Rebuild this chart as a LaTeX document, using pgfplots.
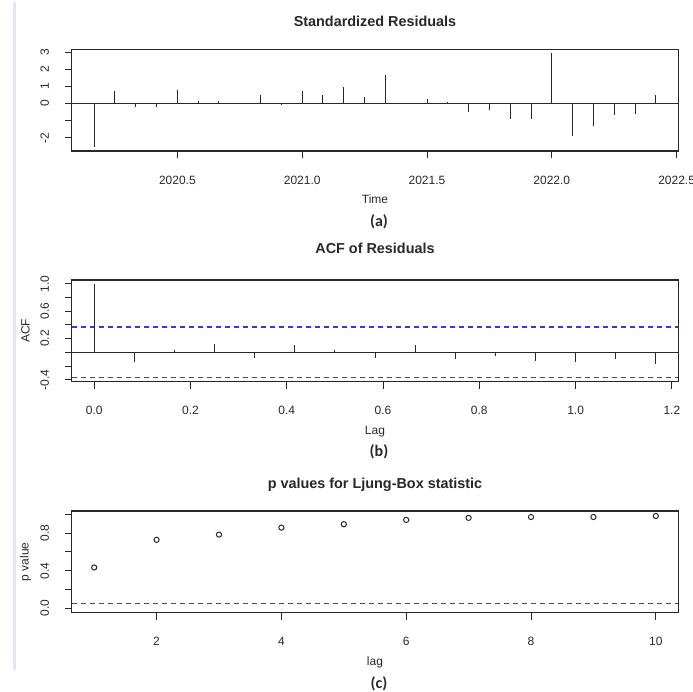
\documentclass[border=0pt]{standalone}
\usepackage{fontspec}
\setmainfont{Liberation Sans}
\newfontfamily\capfont{Carlito}
\usepackage{pgfplots}
\pgfplotsset{compat=1.18}

\definecolor{refblue}{RGB}{55,55,230}
\definecolor{edgeblue}{RGB}{218,232,248}
\definecolor{ink}{RGB}{40,40,40}

\pgfplotsset{
  rpanel/.style={
    scale only axis, width=606.6pt, height=101.5pt,
    anchor=north west,
    axis line style={line width=1.1pt, ink},
    tick align=outside, tick pos=left,
    major tick length=7pt,
    every tick/.style={ink, line width=1pt},
    /pgf/number format/assume math mode=true,
    ticklabel style={font=\fontsize{12}{12}\selectfont, ink},
    xticklabel style={anchor=center, yshift=-22pt},
    yticklabel style={xshift=-20pt, rotate=90, anchor=center},
    title style={font=\fontsize{14.4}{14.4}\selectfont\bfseries, ink, anchor=center, yshift=-6pt},
    label style={font=\fontsize{12}{12}\selectfont, ink},
    xlabel style={at={(axis description cs:0.5,-0.522)}, anchor=base},
    ylabel style={at={(axis description cs:-0.076,0.5)}, anchor=center, rotate=0},
    clip=false,
  },
  limline/.style={draw=refblue, line width=1.5pt, dash pattern=on 5.5pt off 3.5pt, mark=none},
}

\begin{document}
\begin{tikzpicture}[x=1pt, y=1pt]
\path[use as bounding box] (0,0) rectangle (693,-692);
\fill[edgeblue] (13,-2) rectangle (15.5,-670);

% (a) standardized residuals
\begin{axis}[rpanel, at={(71.7pt,-49.5pt)},
    xmin=2020.0767, xmax=2022.5067, ymin=-2.76, ymax=3.15,
    xtick={2020.5,2021,2021.5,2022,2022.5},
    xticklabels={2020.5,2021.0,2021.5,2022.0,2022.5},
    ytick={-2,-1,0,1,2,3}, yticklabels={-2,,0,1,2,3},
    title={Standardized Residuals},
    title style={at={(axis description cs:0.5,1.274)}},
    xlabel={Time}]
  \addplot[ink, line width=1pt] coordinates {(2020.0767,0) (2022.5067,0)};
  \addplot[ycomb, ink, line width=1pt] coordinates {
    (2020.1667,-2.54) (2020.25,0.71) (2020.3333,-0.22) (2020.4167,-0.22)
    (2020.5,0.82) (2020.5833,0.13) (2020.6667,0.15) (2020.75,0.02)
    (2020.8333,0.52) (2020.9167,-0.07) (2021.0,0.71) (2021.0833,0.52)
    (2021.1667,0.96) (2021.25,0.38) (2021.3333,1.66) (2021.4167,0.06)
    (2021.5,0.25) (2021.5833,0.08) (2021.6667,-0.48) (2021.75,-0.38)
    (2021.8333,-0.9) (2021.9167,-0.9) (2022.0,2.93) (2022.0833,-1.91)
    (2022.1667,-1.28) (2022.25,-0.65) (2022.3333,-0.59) (2022.4167,0.52)
  };
\end{axis}
\node[font=\capfont\bfseries\fontsize{16}{16}\selectfont, ink] at (379,-221.5) {(a)};

% (b) ACF of residuals
\begin{axis}[rpanel, at={(71.7pt,-280pt)},
    xmin=-0.0467, xmax=1.2133, ymin=-0.425, ymax=1.055,
    xtick={0,0.2,0.4,0.6,0.8,1.0,1.2},
    xticklabels={0.0,0.2,0.4,0.6,0.8,1.0,1.2},
    ytick={-0.4,-0.2,0,0.2,0.4,0.6,0.8,1.0},
    yticklabels={-0.4,,,0.2,,0.6,,1.0},
    title={ACF of Residuals},
    title style={at={(axis description cs:0.5,1.31)}},
    xlabel={Lag}, ylabel={ACF}]
  \addplot[ink, line width=1pt] coordinates {(-0.0467,0) (1.2133,0)};
  \addplot[limline] coordinates {(-0.0467,0.37) (1.2133,0.37)};
  \addplot[limline] coordinates {(-0.0467,-0.37) (1.2133,-0.37)};
  \addplot[ycomb, ink, line width=1pt] coordinates {
    (0,1.0) (0.0833,-0.137) (0.1667,0.034) (0.25,0.122) (0.3333,-0.088)
    (0.4167,0.102) (0.5,0.034) (0.5833,-0.078) (0.6667,0.102) (0.75,-0.102)
    (0.8333,-0.054) (0.9167,-0.122) (1.0,-0.142) (1.0833,-0.093) (1.1667,-0.171)
  };
\end{axis}
\node[font=\capfont\bfseries\fontsize{16}{16}\selectfont, ink] at (379,-451.5) {(b)};

% (c) Ljung-Box p values
\begin{axis}[rpanel, at={(71.7pt,-511pt)},
    xmin=0.64, xmax=10.36, ymin=-0.045, ymax=1.035,
    xtick={2,4,6,8,10},
    ytick={0,0.2,0.4,0.6,0.8,1.0},
    yticklabels={0.0,,0.4,,0.8,},
    title={p values for Ljung-Box statistic},
    title style={at={(axis description cs:0.5,1.256)}},
    xlabel={lag}, ylabel={p value}]
  \addplot[limline] coordinates {(0.64,0.05) (10.36,0.05)};
  \addplot[only marks, mark=o, mark size=2.6pt, ink,
    mark options={line width=1pt}] coordinates {
    (1,0.434) (2,0.728) (3,0.784) (4,0.858) (5,0.894)
    (6,0.94) (7,0.962) (8,0.971) (9,0.971) (10,0.982)
  };
\end{axis}
\node[font=\capfont\bfseries\fontsize{16}{16}\selectfont, ink] at (379,-684) {(c)};
\end{tikzpicture}
\end{document}
